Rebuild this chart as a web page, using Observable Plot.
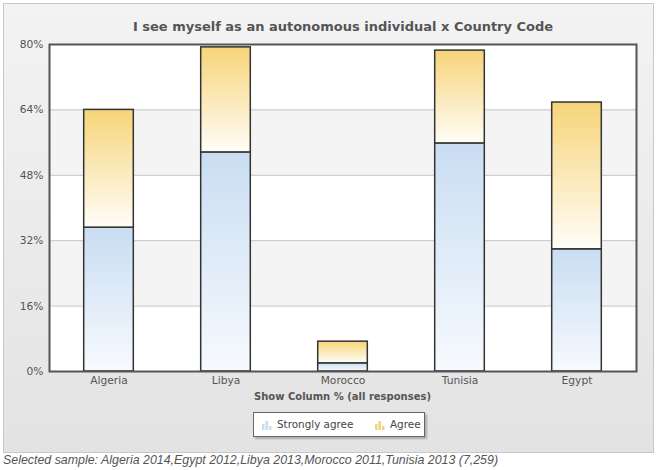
<!DOCTYPE html>
<html><head><meta charset="utf-8">
<script src="https://cdn.jsdelivr.net/npm/d3@7"></script>
<script src="https://cdn.jsdelivr.net/npm/@observablehq/plot@0.6"></script>
<style>
html,body{margin:0;padding:0;background:#fff;}
#page{position:relative;width:658px;height:470px;overflow:hidden;}
#panel{position:absolute;left:3px;top:3px;width:649px;height:448px;border:1px solid #c8c8c8;background:linear-gradient(#f3f3f3,#e3e3e3);}
#title{position:absolute;left:0;width:686px;top:19px;text-align:center;font:bold 13px "DejaVu Sans";color:#555;}
#chart{position:absolute;left:0;top:0;}
#xlabel{position:absolute;left:49px;width:587px;top:391px;text-align:center;font:bold 10px "DejaVu Sans";color:#555;}
#legend{position:absolute;left:253px;top:412px;width:170px;height:23px;background:#fff;border:1px solid #666;box-shadow:2px 2px 2px rgba(0,0,0,0.25);font:10.4px "DejaVu Sans";color:#444;}
#legend .it{position:absolute;top:5px;white-space:nowrap;}
#legend svg{vertical-align:-2px;margin-right:5px;}
#caption{position:absolute;left:3px;top:453px;font:italic 12.4px "Liberation Sans";color:#555;white-space:nowrap;}
</style></head>
<body>
<div id="page">
  <div id="panel"></div>
  <div id="title">I see myself as an autonomous individual x Country Code</div>
  <div id="chart"></div>
  <div id="xlabel">Show Column % (all responses)</div>
  <div id="legend"></div>
  <div id="caption">Selected sample: Algeria 2014,Egypt 2012,Libya 2013,Morocco 2011,Tunisia 2013 (7,259)</div>
</div>
<script>
const countries = ["Algeria", "Libya", "Morocco", "Tunisia", "Egypt"];
const series = ["Strongly agree", "Agree"];
const stronglyAgree = [35.2, 53.6, 2.0, 55.8, 29.9];
const agree = [28.8, 25.7, 5.3, 22.7, 35.9];
const yTicks = [0, 16, 32, 48, 64, 80];
const bands = [[16, 32], [48, 64]];
const gridLines = [16, 32, 48, 64];
const seriesFill = {"Strongly agree": "url(#gsa)", "Agree": "url(#gag)"};

const data = [];
countries.forEach((c, i) => {
  data.push({country: c, series: series[0], value: stronglyAgree[i]});
  data.push({country: c, series: series[1], value: agree[i]});
});
const bandData = bands.map(([a, b]) => ({a, b}));

const W = 658, H = 410;
const stepPx = (W - 49 - 22) / countries.length;
const inset = (stepPx - 50) / 2;

const svg = Plot.plot({
  width: W, height: H,
  marginLeft: 49, marginRight: 22, marginTop: 44, marginBottom: 39,
  style: {background: "transparent", fontFamily: "DejaVu Sans", fontSize: "10.7px", color: "#555"},
  x: {domain: countries, padding: 0, label: null},
  y: {domain: [0, 80], label: null},
  color: {type: "identity"},
  marks: [
    Plot.frame({fill: "#fff", stroke: "none"}),
    Plot.rectY(bandData, {y1: "a", y2: "b", fill: "#f4f4f4"}),
    Plot.ruleY(gridLines, {stroke: "#c4c4c4", strokeWidth: 1}),
    Plot.barY(data, {x: "country", y: "value", fill: d => seriesFill[d.series],
      stroke: "#333", strokeWidth: 1.5, insetLeft: inset, insetRight: inset}),
    Plot.axisY({ticks: yTicks, tickSize: 0, tickPadding: 6, tickFormat: d => d + "%", fill: "#555"}),
    Plot.axisX({tickSize: 0, tickPadding: 5, fill: "#555"}),
    Plot.frame({stroke: "#555", strokeWidth: 2})
  ]
});
const defs = d3.select(svg).insert("defs", ":first-child");
function grad(id, top, bottom) {
  const g = defs.append("linearGradient").attr("id", id).attr("x1", 0).attr("y1", 0).attr("x2", 0).attr("y2", 1);
  g.append("stop").attr("offset", "0%").attr("stop-color", top);
  g.append("stop").attr("offset", "100%").attr("stop-color", bottom);
}
grad("gsa", "#c9ddf2", "#f7fafe");
grad("gag", "#f6d478", "#fffdf8");
document.getElementById("chart").appendChild(svg);

// legend
const legend = d3.select("#legend");
const legendItems = [
  {name: series[0], color: "#c6dcf1", left: 8},
  {name: series[1], color: "#f5d27c", left: 121}
];
legendItems.forEach(it => {
  const d = legend.append("div").attr("class", "it").style("left", it.left + "px");
  const s = d.append("svg").attr("width", 10).attr("height", 11);
  [[0, 6], [3.5, 9], [7, 4]].forEach(([x, h]) => {
    s.append("rect").attr("x", x).attr("y", 11 - h).attr("width", 2.5).attr("height", h).attr("fill", it.color);
  });
  d.append("span").text(it.name);
});
</script>
</body></html>
